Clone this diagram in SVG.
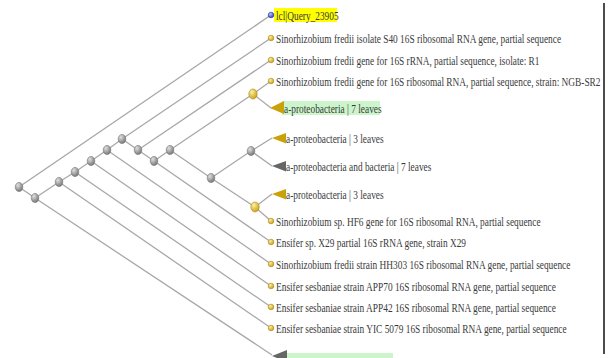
<svg xmlns="http://www.w3.org/2000/svg" width="614" height="358" viewBox="0 0 614 358">
<defs>
<radialGradient id="gGray" cx="0.35" cy="0.3" r="0.8"><stop offset="0" stop-color="#e0e0e0"/><stop offset="1" stop-color="#6a6a6a"/></radialGradient>
<radialGradient id="gGold" cx="0.35" cy="0.3" r="0.8"><stop offset="0" stop-color="#fff0a0"/><stop offset="1" stop-color="#c49a10"/></radialGradient>
<radialGradient id="gBlue" cx="0.35" cy="0.3" r="0.8"><stop offset="0" stop-color="#c0c8ff"/><stop offset="1" stop-color="#2030c0"/></radialGradient>
</defs>
<style>
.ln{stroke:#a8a8a8;stroke-width:1.3;fill:none}
.in{fill:url(#gGray);stroke:#777;stroke-width:0.6}
.iy{fill:url(#gGold);stroke:#b08a10;stroke-width:0.6}
.lf{fill:url(#gGold);stroke:#a88510;stroke-width:0.6}
.lq{fill:url(#gBlue);stroke:#2030a0;stroke-width:0.6}
.tg{fill:#c8a208}
.tk{fill:#666}
.t{font-family:"Liberation Serif","Times New Roman",serif;font-size:13px;fill:#3a3a3a}
</style>
<rect width="614" height="358" fill="#fff"/>
<line x1="604" y1="3" x2="604" y2="354" stroke="#111" stroke-width="1.5"/>
<g id="connectors">
<polyline class="ln" points="271,15 19,187 35,198 272,355"/>
<polyline class="ln" points="35,198 59,182 271,328"/>
<polyline class="ln" points="59,182 75,172 271,307"/>
<polyline class="ln" points="75,172 91,161 271,286"/>
<polyline class="ln" points="91,161 107,150 271,264"/>
<polyline class="ln" points="107,150 122,139 271,38"/>
<polyline class="ln" points="122,139 138,150 271,60"/>
<polyline class="ln" points="138,150 154,161 271,242"/>
<polyline class="ln" points="154,161 170,150 253,94 271,81"/>
<polyline class="ln" points="253,94 271,108"/>
<polyline class="ln" points="170,150 211,178 251,151 272,138"/>
<polyline class="ln" points="251,151 272,166"/>
<polyline class="ln" points="211,178 255,207 272,194"/>
<polyline class="ln" points="255,207 271,221"/>
</g>
<g id="n-root"><ellipse class="in" cx="19" cy="187" rx="3.8" ry="4.6"/></g>
<g id="n-b"><ellipse class="in" cx="35" cy="198" rx="3.8" ry="4.6"/></g>
<g id="n-c"><ellipse class="in" cx="59" cy="182" rx="3.8" ry="4.6"/></g>
<g id="n-d"><ellipse class="in" cx="75" cy="172" rx="3.8" ry="4.6"/></g>
<g id="n-e"><ellipse class="in" cx="91" cy="161" rx="3.8" ry="4.6"/></g>
<g id="n-f"><ellipse class="in" cx="107" cy="150" rx="3.8" ry="4.6"/></g>
<g id="n-g"><ellipse class="in" cx="122" cy="139" rx="3.8" ry="4.6"/></g>
<g id="n-h"><ellipse class="in" cx="138" cy="150" rx="3.8" ry="4.6"/></g>
<g id="n-i"><ellipse class="in" cx="154" cy="161" rx="3.8" ry="4.6"/></g>
<g id="n-j"><ellipse class="in" cx="170" cy="150" rx="3.8" ry="4.6"/></g>
<g id="n-l"><ellipse class="in" cx="211" cy="178" rx="3.8" ry="4.6"/></g>
<g id="n-m"><ellipse class="in" cx="251" cy="151" rx="3.8" ry="4.6"/></g>
<g id="n-k"><ellipse class="iy" cx="253" cy="94" rx="4.2" ry="5"/></g>
<g id="n-n"><ellipse class="iy" cx="255" cy="207" rx="4.2" ry="5"/></g>

<g id="leaf-query"><rect x="274" y="8" width="63" height="14" fill="#ffff00"/><circle class="lq" cx="271" cy="15" r="2.8"/><text class="t" transform="translate(276,19.5) scale(0.72,1)">lcl|Query_23905</text></g>
<g id="leaf-s40"><circle class="lf" cx="271" cy="38" r="2.8"/><text class="t" transform="translate(276,42.5) scale(0.72,1)">Sinorhizobium fredii isolate S40 16S ribosomal RNA gene, partial sequence</text></g>
<g id="leaf-r1"><circle class="lf" cx="271" cy="60" r="2.8"/><text class="t" transform="translate(276,64.5) scale(0.72,1)">Sinorhizobium fredii gene for 16S rRNA, partial sequence, isolate: R1</text></g>
<g id="leaf-ngb"><circle class="lf" cx="271" cy="81" r="2.8"/><text class="t" transform="translate(276,85.5) scale(0.72,1)">Sinorhizobium fredii gene for 16S ribosomal RNA, partial sequence, strain: NGB-SR2</text></g>
<g id="clade-7"><rect x="282" y="101" width="98" height="14" fill="#ccf5cc"/><polygon class="tg" points="270,108 284,101 284,114"/><text class="t" transform="translate(284,112.5) scale(0.72,1)">a-proteobacteria | 7 leaves</text></g>
<g id="clade-3a"><polygon class="tg" points="272,138 286,133 286,143.5"/><text class="t" transform="translate(286,143) scale(0.72,1)">a-proteobacteria | 3 leaves</text></g>
<g id="clade-gray"><polygon class="tk" points="272,166 286,161 286,171.5"/><text class="t" transform="translate(286,171) scale(0.72,1)">a-proteobacteria and bacteria | 7 leaves</text></g>
<g id="clade-3b"><polygon class="tg" points="272,194 286,189 286,199.5"/><text class="t" transform="translate(286,198.5) scale(0.72,1)">a-proteobacteria | 3 leaves</text></g>
<g id="leaf-hf6"><circle class="lf" cx="271" cy="221" r="2.8"/><text class="t" transform="translate(276,225.5) scale(0.72,1)">Sinorhizobium sp. HF6 gene for 16S ribosomal RNA, partial sequence</text></g>
<g id="leaf-x29"><circle class="lf" cx="271" cy="242" r="2.8"/><text class="t" transform="translate(276,246.5) scale(0.72,1)">Ensifer sp. X29 partial 16S rRNA gene, strain X29</text></g>
<g id="leaf-hh303"><circle class="lf" cx="271" cy="264" r="2.8"/><text class="t" transform="translate(276,268.5) scale(0.72,1)">Sinorhizobium fredii strain HH303 16S ribosomal RNA gene, partial sequence</text></g>
<g id="leaf-app70"><circle class="lf" cx="271" cy="286" r="2.8"/><text class="t" transform="translate(276,290.5) scale(0.72,1)">Ensifer sesbaniae strain APP70 16S ribosomal RNA gene, partial sequence</text></g>
<g id="leaf-app42"><circle class="lf" cx="271" cy="307" r="2.8"/><text class="t" transform="translate(276,311.5) scale(0.72,1)">Ensifer sesbaniae strain APP42 16S ribosomal RNA gene, partial sequence</text></g>
<g id="leaf-yic"><circle class="lf" cx="271" cy="328" r="2.8"/><text class="t" transform="translate(276,332.5) scale(0.72,1)">Ensifer sesbaniae strain YIC 5079 16S ribosomal RNA gene, partial sequence</text></g>
<g id="clade-bottom"><rect x="287" y="353" width="106" height="14" fill="#ccf5cc"/><polygon class="tk" points="272,356 287,350 287,362"/></g>
</svg>
